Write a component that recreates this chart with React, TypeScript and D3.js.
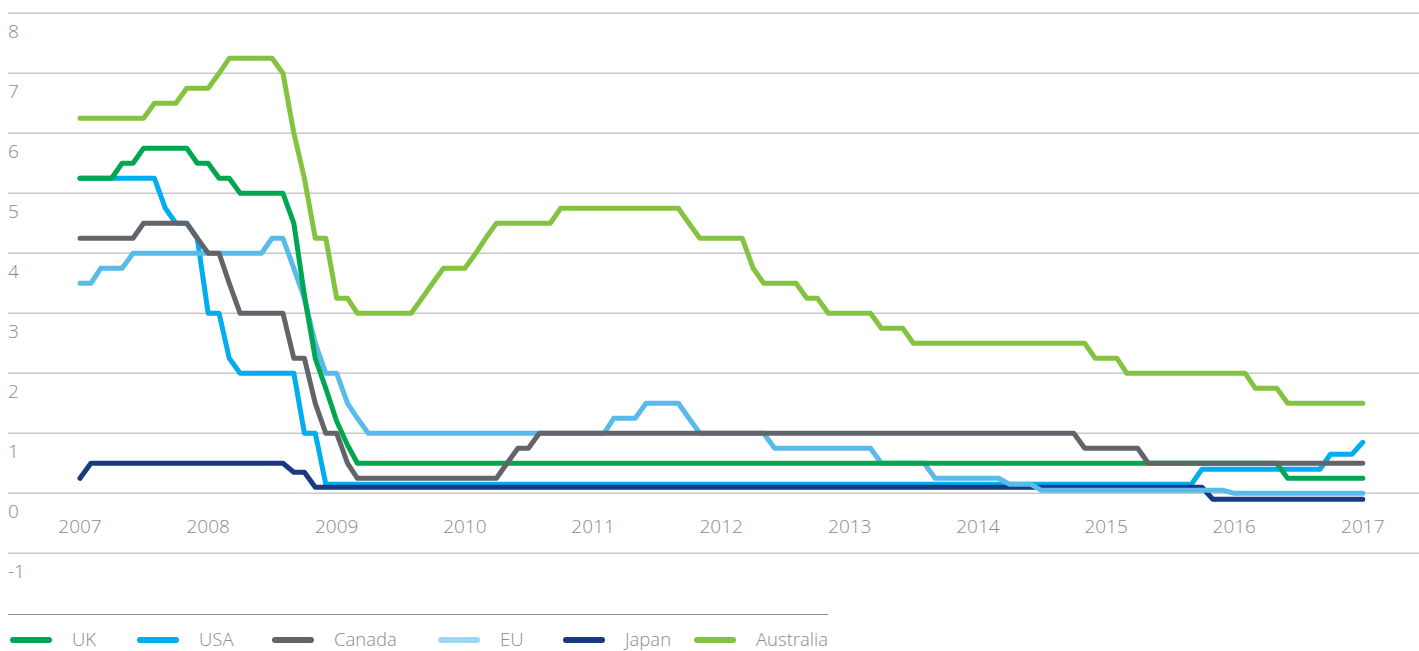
import * as d3 from "d3";
import React, { useRef, useEffect } from "react";

const mainWidth = 1419;
const mainHeight = 651;

// monthly policy rates, Jan 2007 .. Jan 2017 (one row per year)
const startMonth = new Date(2007, 0, 1);

const uk = [
  5.25, 5.25, 5.25, 5.25, 5.5, 5.5, 5.75, 5.75, 5.75, 5.75, 5.75, 5.5,
  5.5, 5.25, 5.25, 5.0, 5.0, 5.0, 5.0, 5.0, 4.5, 3.3, 2.25, 1.75,
  1.2, 0.8, 0.5, 0.5, 0.5, 0.5, 0.5, 0.5, 0.5, 0.5, 0.5, 0.5,
  0.5, 0.5, 0.5, 0.5, 0.5, 0.5, 0.5, 0.5, 0.5, 0.5, 0.5, 0.5,
  0.5, 0.5, 0.5, 0.5, 0.5, 0.5, 0.5, 0.5, 0.5, 0.5, 0.5, 0.5,
  0.5, 0.5, 0.5, 0.5, 0.5, 0.5, 0.5, 0.5, 0.5, 0.5, 0.5, 0.5,
  0.5, 0.5, 0.5, 0.5, 0.5, 0.5, 0.5, 0.5, 0.5, 0.5, 0.5, 0.5,
  0.5, 0.5, 0.5, 0.5, 0.5, 0.5, 0.5, 0.5, 0.5, 0.5, 0.5, 0.5,
  0.5, 0.5, 0.5, 0.5, 0.5, 0.5, 0.5, 0.5, 0.5, 0.5, 0.5, 0.5,
  0.5, 0.5, 0.5, 0.5, 0.5, 0.25, 0.25, 0.25, 0.25, 0.25, 0.25, 0.25,
  0.25,
];

const usa = [
  5.25, 5.25, 5.25, 5.25, 5.25, 5.25, 5.25, 5.25, 4.75, 4.5, 4.5, 4.25,
  3.0, 3.0, 2.25, 2.0, 2.0, 2.0, 2.0, 2.0, 2.0, 1.0, 1.0, 0.15,
  0.15, 0.15, 0.15, 0.15, 0.15, 0.15, 0.15, 0.15, 0.15, 0.15, 0.15, 0.15,
  0.15, 0.15, 0.15, 0.15, 0.15, 0.15, 0.15, 0.15, 0.15, 0.15, 0.15, 0.15,
  0.15, 0.15, 0.15, 0.15, 0.15, 0.15, 0.15, 0.15, 0.15, 0.15, 0.15, 0.15,
  0.15, 0.15, 0.15, 0.15, 0.15, 0.15, 0.15, 0.15, 0.15, 0.15, 0.15, 0.15,
  0.15, 0.15, 0.15, 0.15, 0.15, 0.15, 0.15, 0.15, 0.15, 0.15, 0.15, 0.15,
  0.15, 0.15, 0.15, 0.15, 0.15, 0.15, 0.15, 0.15, 0.15, 0.15, 0.15, 0.15,
  0.15, 0.15, 0.15, 0.15, 0.15, 0.15, 0.15, 0.15, 0.15, 0.4, 0.4, 0.4,
  0.4, 0.4, 0.4, 0.4, 0.4, 0.4, 0.4, 0.4, 0.4, 0.65, 0.65, 0.65,
  0.85,
];

const canada = [
  4.25, 4.25, 4.25, 4.25, 4.25, 4.25, 4.5, 4.5, 4.5, 4.5, 4.5, 4.25,
  4.0, 4.0, 3.5, 3.0, 3.0, 3.0, 3.0, 3.0, 2.25, 2.25, 1.5, 1.0,
  1.0, 0.5, 0.25, 0.25, 0.25, 0.25, 0.25, 0.25, 0.25, 0.25, 0.25, 0.25,
  0.25, 0.25, 0.25, 0.25, 0.5, 0.75, 0.75, 1.0, 1.0, 1.0, 1.0, 1.0,
  1.0, 1.0, 1.0, 1.0, 1.0, 1.0, 1.0, 1.0, 1.0, 1.0, 1.0, 1.0,
  1.0, 1.0, 1.0, 1.0, 1.0, 1.0, 1.0, 1.0, 1.0, 1.0, 1.0, 1.0,
  1.0, 1.0, 1.0, 1.0, 1.0, 1.0, 1.0, 1.0, 1.0, 1.0, 1.0, 1.0,
  1.0, 1.0, 1.0, 1.0, 1.0, 1.0, 1.0, 1.0, 1.0, 1.0, 0.75, 0.75,
  0.75, 0.75, 0.75, 0.75, 0.5, 0.5, 0.5, 0.5, 0.5, 0.5, 0.5, 0.5,
  0.5, 0.5, 0.5, 0.5, 0.5, 0.5, 0.5, 0.5, 0.5, 0.5, 0.5, 0.5,
  0.5,
];

const eu = [
  3.5, 3.5, 3.75, 3.75, 3.75, 4.0, 4.0, 4.0, 4.0, 4.0, 4.0, 4.0,
  4.0, 4.0, 4.0, 4.0, 4.0, 4.0, 4.25, 4.25, 3.75, 3.25, 2.5, 2.0,
  2.0, 1.5, 1.25, 1.0, 1.0, 1.0, 1.0, 1.0, 1.0, 1.0, 1.0, 1.0,
  1.0, 1.0, 1.0, 1.0, 1.0, 1.0, 1.0, 1.0, 1.0, 1.0, 1.0, 1.0,
  1.0, 1.0, 1.25, 1.25, 1.25, 1.5, 1.5, 1.5, 1.5, 1.25, 1.0, 1.0,
  1.0, 1.0, 1.0, 1.0, 1.0, 0.75, 0.75, 0.75, 0.75, 0.75, 0.75, 0.75,
  0.75, 0.75, 0.75, 0.5, 0.5, 0.5, 0.5, 0.5, 0.25, 0.25, 0.25, 0.25,
  0.25, 0.25, 0.25, 0.15, 0.15, 0.15, 0.05, 0.05, 0.05, 0.05, 0.05, 0.05,
  0.05, 0.05, 0.05, 0.05, 0.05, 0.05, 0.05, 0.05, 0.05, 0.05, 0.05, 0.05,
  0.0, 0.0, 0.0, 0.0, 0.0, 0.0, 0.0, 0.0, 0.0, 0.0, 0.0, 0.0,
  0.0,
];

const japan = [
  0.25, 0.5, 0.5, 0.5, 0.5, 0.5, 0.5, 0.5, 0.5, 0.5, 0.5, 0.5,
  0.5, 0.5, 0.5, 0.5, 0.5, 0.5, 0.5, 0.5, 0.35, 0.35, 0.1, 0.1,
  0.1, 0.1, 0.1, 0.1, 0.1, 0.1, 0.1, 0.1, 0.1, 0.1, 0.1, 0.1,
  0.1, 0.1, 0.1, 0.1, 0.1, 0.1, 0.1, 0.1, 0.1, 0.1, 0.1, 0.1,
  0.1, 0.1, 0.1, 0.1, 0.1, 0.1, 0.1, 0.1, 0.1, 0.1, 0.1, 0.1,
  0.1, 0.1, 0.1, 0.1, 0.1, 0.1, 0.1, 0.1, 0.1, 0.1, 0.1, 0.1,
  0.1, 0.1, 0.1, 0.1, 0.1, 0.1, 0.1, 0.1, 0.1, 0.1, 0.1, 0.1,
  0.1, 0.1, 0.1, 0.1, 0.1, 0.1, 0.1, 0.1, 0.1, 0.1, 0.1, 0.1,
  0.1, 0.1, 0.1, 0.1, 0.1, 0.1, 0.1, 0.1, 0.1, 0.1, -0.1, -0.1,
  -0.1, -0.1, -0.1, -0.1, -0.1, -0.1, -0.1, -0.1, -0.1, -0.1, -0.1, -0.1,
  -0.1,
];

const australia = [
  6.25, 6.25, 6.25, 6.25, 6.25, 6.25, 6.25, 6.5, 6.5, 6.5, 6.75, 6.75,
  6.75, 7.0, 7.25, 7.25, 7.25, 7.25, 7.25, 7.0, 6.0, 5.25, 4.25, 4.25,
  3.25, 3.25, 3.0, 3.0, 3.0, 3.0, 3.0, 3.0, 3.25, 3.5, 3.75, 3.75,
  3.75, 4.0, 4.25, 4.5, 4.5, 4.5, 4.5, 4.5, 4.5, 4.75, 4.75, 4.75,
  4.75, 4.75, 4.75, 4.75, 4.75, 4.75, 4.75, 4.75, 4.75, 4.5, 4.25, 4.25,
  4.25, 4.25, 4.25, 3.75, 3.5, 3.5, 3.5, 3.5, 3.25, 3.25, 3.0, 3.0,
  3.0, 3.0, 3.0, 2.75, 2.75, 2.75, 2.5, 2.5, 2.5, 2.5, 2.5, 2.5,
  2.5, 2.5, 2.5, 2.5, 2.5, 2.5, 2.5, 2.5, 2.5, 2.5, 2.5, 2.25,
  2.25, 2.25, 2.0, 2.0, 2.0, 2.0, 2.0, 2.0, 2.0, 2.0, 2.0, 2.0,
  2.0, 2.0, 1.75, 1.75, 1.75, 1.5, 1.5, 1.5, 1.5, 1.5, 1.5, 1.5,
  1.5,
];

const yTicks = [-1, 0, 1, 2, 3, 4, 5, 6, 7, 8];
const yearTicks = [2007, 2008, 2009, 2010, 2011, 2012, 2013, 2014, 2015, 2016, 2017];

const legendNames = ["UK", "USA", "Canada", "EU", "Japan", "Australia"];
const legendColors = ["#00a650", "#00adee", "#626469", "#9dd8f5", "#173a80", "#84c341"];

// drawing order (later on top)
const series = [
  { name: "USA", values: usa, color: "#00adee" },
  { name: "Japan", values: japan, color: "#173a80" },
  { name: "EU", values: eu, color: "#58bbe9" },
  { name: "UK", values: uk, color: "#00a650" },
  { name: "Canada", values: canada, color: "#626469" },
  { name: "Australia", values: australia, color: "#84c341" },
];

const font = "'Open Sans', sans-serif";
const labelColor = "#8a8a8a";

function RatesChart() {
  const ref = useRef(null);

  useEffect(() => {
    const svg = d3.select(ref.current);
    svg.selectAll("*").remove();

    const xScale = d3
      .scaleTime()
      .domain([startMonth, new Date(2017, 0, 1)])
      .range([80, 1362.8]);
    const yScale = d3.scaleLinear().domain([-1, 8]).range([553.3, 13.3]);

    // gridlines + y labels
    const grid = svg.append("g");
    grid
      .selectAll("line")
      .data(yTicks)
      .join("line")
      .attr("x1", 8)
      .attr("x2", mainWidth)
      .attr("y1", (d) => yScale(d))
      .attr("y2", (d) => yScale(d))
      .attr("stroke", "#c8c8c8")
      .attr("stroke-width", 1.5);
    grid
      .selectAll("text")
      .data(yTicks)
      .join("text")
      .attr("x", 8)
      .attr("y", (d) => yScale(d) + 24.5)
      .attr("fill", labelColor)
      .attr("font-family", font)
      .attr("font-weight", 300)
      .attr("font-size", 19)
      .text((d) => String(d));

    // year labels
    svg
      .append("g")
      .selectAll("text")
      .data(yearTicks)
      .join("text")
      .attr("x", (d) => xScale(new Date(d, 0, 1)))
      .attr("y", 532.5)
      .attr("text-anchor", "middle")
      .attr("fill", labelColor)
      .attr("font-family", font)
      .attr("font-weight", 300)
      .attr("font-size", 19)
      .text((d) => String(d));

    // lines
    const line = d3
      .line()
      .x((_, i) => xScale(d3.timeMonth.offset(startMonth, i)))
      .y((d) => yScale(d));

    svg
      .append("g")
      .selectAll("path")
      .data(series)
      .join("path")
      .attr("d", (d) => line(d.values))
      .attr("fill", "none")
      .attr("stroke", (d) => d.color)
      .attr("stroke-width", 5)
      .attr("stroke-linejoin", "round")
      .attr("stroke-linecap", "round");

    // legend
    svg
      .append("line")
      .attr("x1", 8)
      .attr("x2", 828)
      .attr("y1", 614.5)
      .attr("y2", 614.5)
      .attr("stroke", "#8c8c8c")
      .attr("stroke-width", 1);

    const legendX = [10, 137, 272, 438, 563, 694];
    const items = svg
      .append("g")
      .selectAll("g")
      .data(legendNames)
      .join("g")
      .attr("transform", (_, i) => `translate(${legendX[i]},640)`);
    items
      .append("line")
      .attr("x1", 3)
      .attr("x2", 39)
      .attr("stroke", (_, i) => legendColors[i])
      .attr("stroke-width", 6)
      .attr("stroke-linecap", "round");
    items
      .append("text")
      .attr("x", 62)
      .attr("y", 5.5)
      .attr("fill", labelColor)
      .attr("font-family", font)
      .attr("font-weight", 300)
      .attr("font-size", 18.5)
      .text((d) => d);
  }, []);

  return (
    <div style={{ position: "absolute", left: 0, top: 0 }}>
      <svg ref={ref} width={mainWidth} height={mainHeight} style={{ display: "block" }}></svg>
    </div>
  );
}

export default function App() {
  return <RatesChart />;
}
